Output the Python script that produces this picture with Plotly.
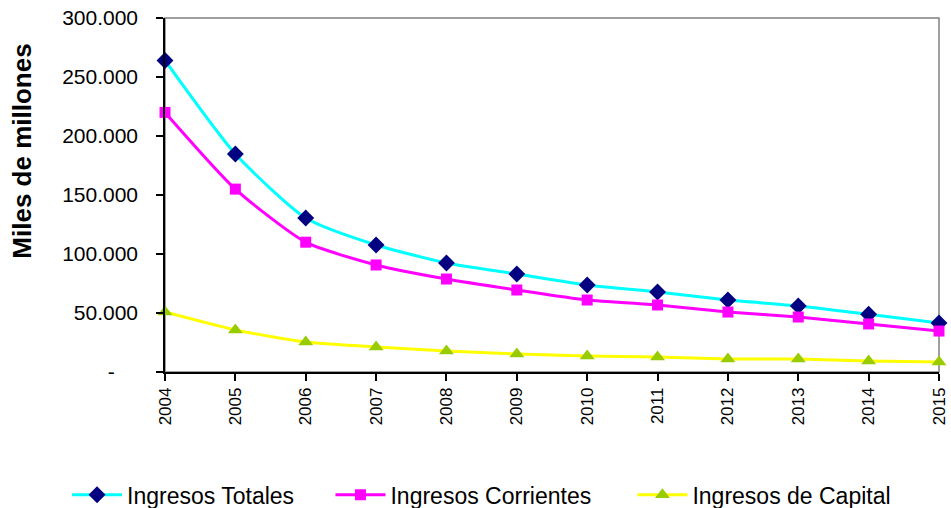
import plotly.graph_objects as go

years = [2004, 2005, 2006, 2007, 2008, 2009, 2010, 2011, 2012, 2013, 2014, 2015]
totales = [264000, 184700, 130500, 107600, 92400, 83000, 73700, 67800, 61000, 56000, 49000, 41500]
corrientes = [220000, 155000, 110000, 90700, 78800, 69500, 61000, 56800, 50800, 46600, 40700, 34700]
capital = [50800, 35600, 25400, 21200, 17800, 15300, 13600, 12700, 11000, 11000, 9300, 8500]

y_tickvals = [0, 50000, 100000, 150000, 200000, 250000, 300000]
y_ticktext = ["-\u00a0\u00a0\u00a0\u00a0", "50.000", "100.000", "150.000", "200.000", "250.000", "300.000"]

FONT = "Liberation Sans, Arial, sans-serif"

fig = go.Figure()
fig.add_trace(go.Scatter(
    x=years, y=totales, name="Ingresos Totales", mode="lines+markers",
    line=dict(color="#00FFFF", width=3, shape="spline", smoothing=0.6),
    marker=dict(symbol="diamond", color="#000080", size=13),
    cliponaxis=False, legend="legend"))
fig.add_trace(go.Scatter(
    x=years, y=corrientes, name="Ingresos Corrientes", mode="lines+markers",
    line=dict(color="#FF00FF", width=3, shape="spline", smoothing=0.6),
    marker=dict(symbol="square", color="#FF00FF", size=11),
    cliponaxis=False, legend="legend2"))
fig.add_trace(go.Scatter(
    x=years, y=capital, name="Ingresos de Capital", mode="lines+markers",
    line=dict(color="#FFFF00", width=3, shape="spline", smoothing=0.6),
    marker=dict(symbol="triangle-up", color="#99CC00", size=13),
    cliponaxis=False, legend="legend3"))

fig.add_shape(type="rect", xref="paper", yref="paper", x0=0, y0=0, x1=1, y1=1,
              line=dict(color="#808080", width=1.5), layer="below")

fig.add_annotation(text="<b>Miles de millones</b>", xref="paper", yref="paper",
                   x=-0.184, y=0.624, xanchor="center", yanchor="middle",
                   textangle=-90, showarrow=False,
                   font=dict(family=FONT, size=26, color="black"))

legfont = dict(family=FONT, size=23, color="black")
legy = 0.026
common = dict(orientation="h", xref="container", yref="container", y=legy,
              xanchor="left", yanchor="middle", font=legfont, bgcolor="rgba(0,0,0,0)",
              itemwidth=50)
fig.update_layout(
    width=951, height=508,
    margin=dict(l=165, r=12, t=18, b=136, autoexpand=False),
    paper_bgcolor="white", plot_bgcolor="rgba(0,0,0,0)",
    font=dict(family=FONT, color="black"),
    showlegend=True,
    legend=dict(x=0.0705, **common),
    legend2=dict(x=0.3475, **common),
    legend3=dict(x=0.665, **common),
)
fig.update_xaxes(
    range=[2003.9999, 2015.0001], tickvals=years, ticktext=[str(y) for y in years],
    tickangle=-90, tickfont=dict(family=FONT, size=17, color="black"),
    ticklabeloverflow="allow",
    showgrid=False, zeroline=False, showline=True, linecolor="black", linewidth=1.5,
    ticks="outside", ticklen=7, tickcolor="black", tickwidth=1.5)
fig.update_yaxes(
    range=[0, 300000], tickvals=y_tickvals, ticktext=y_ticktext,
    tickfont=dict(family=FONT, size=21, color="black"),
    showgrid=False, zeroline=False, showline=True, linecolor="black", linewidth=1.5,
    ticks="outside", ticklen=7, tickcolor="black", tickwidth=1.5,
    ticklabelstandoff=14)

fig.write_html("out.html", config={"displayModeBar": False},
               post_script="document.body.style.margin='0';")
